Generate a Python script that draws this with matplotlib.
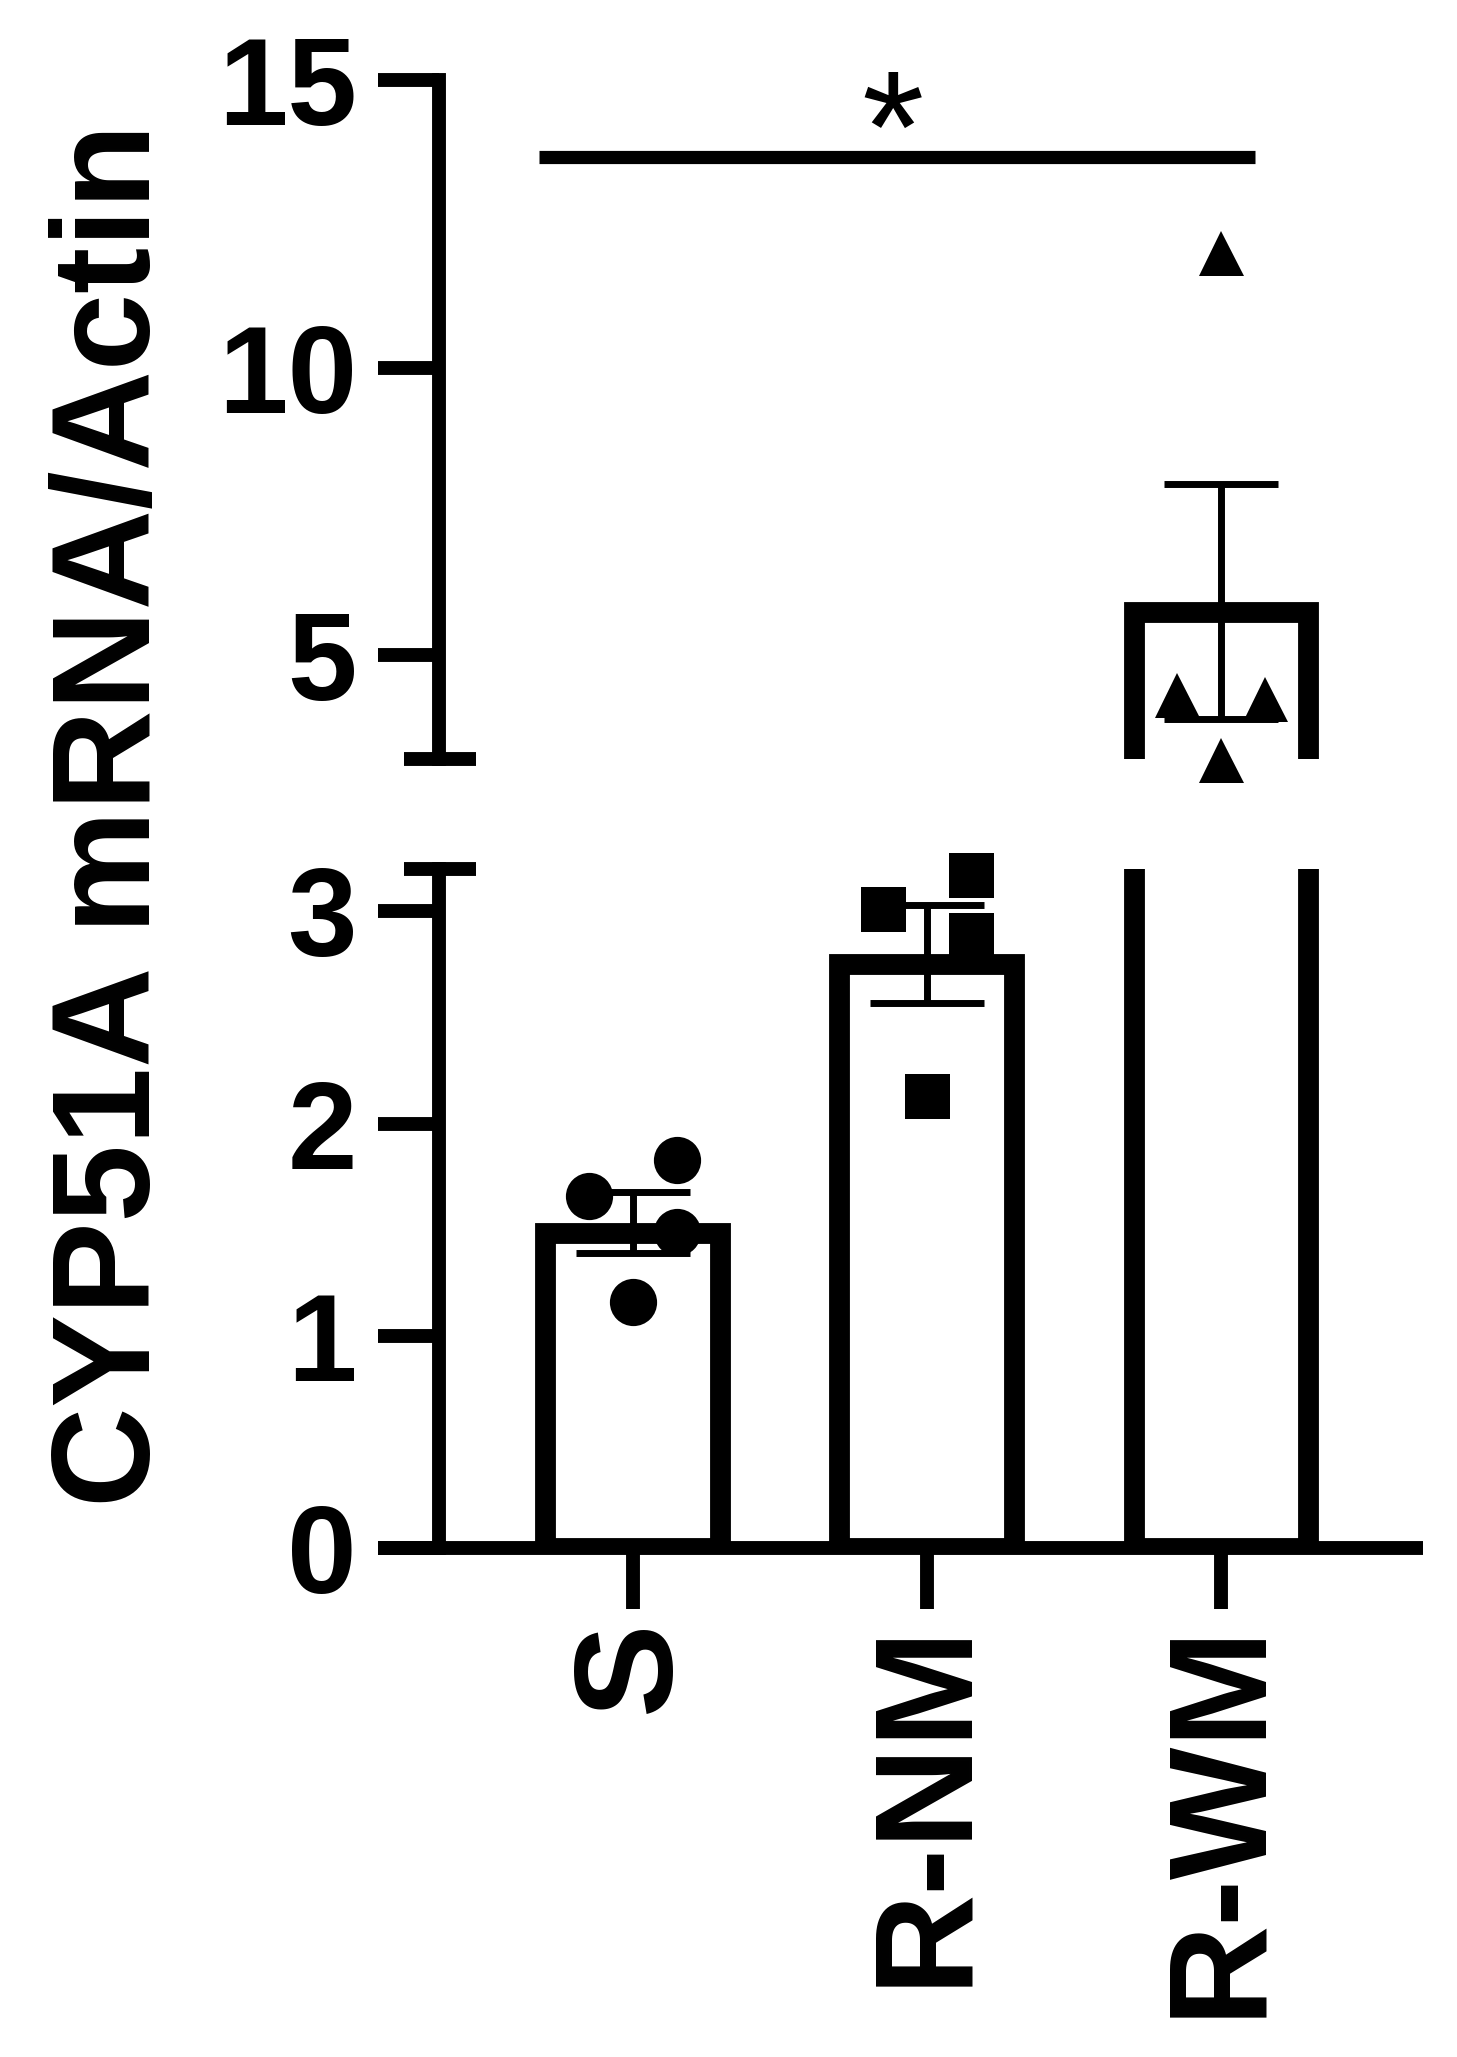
import numpy as np
import matplotlib
matplotlib.use('Agg')
import matplotlib.pyplot as plt

# fonts: Arial-like bold, like GraphPad
plt.rcParams['font.family'] = ['Liberation Sans', 'DejaVu Sans']
plt.rcParams['font.weight'] = 'bold'

# ---- data ----
groups = ['S', 'R-NM', 'R-WM']
s_vals = [1.66, 1.83, 1.49, 1.16]
rnm_vals = [3.01, 3.17, 2.89, 2.13]
rwm_vals = [12.0, 4.32, 4.24, 3.19]
# horizontal spread of the dots inside each bar
s_offsets = [-0.15, 0.15, 0.15, 0.0]
rnm_offsets = [-0.15, 0.15, 0.15, 0.0]
rwm_offsets = [0.0, -0.15, 0.15, 0.0]
markers = ['o', 's', '^']
marker_sizes = [34, 32.4, 32.4]

lower_ticks = [0, 1, 2, 3]
upper_ticks = [5, 10, 15]
lower_lim = (0, 3.2)
upper_lim = (3.2, 15)

sig_x = [-0.32, 2.116]   # S vs R-WM
sig_y = 13.66
star_x = 0.884
star_y = 13.23

all_vals = [s_vals, rnm_vals, rwm_vals]
all_offsets = [s_offsets, rnm_offsets, rwm_offsets]
means = np.array([np.mean(v) for v in all_vals])
sems = np.array([np.std(v, ddof=1) / np.sqrt(len(v)) for v in all_vals])
xpos = np.arange(len(groups))

# ---- figure / axes laid out in pixels ----
W, H = 1457, 2057
fig = plt.figure(figsize=(W / 100, H / 100), dpi=100)

def px_axes(x0, y0, x1, y1):
    return fig.add_axes([x0 / W, 1 - y1 / H, (x1 - x0) / W, (y1 - y0) / H])

ax_lo = px_axes(378, 869, 1423, 1548)
ax_hi = px_axes(378, 80, 1423, 759)

xlim = (-0.867, 2.687)
spine_pos = 0.0584
bar_w = 0.595
bar_lw = 15

for ax, lim in [(ax_lo, lower_lim), (ax_hi, upper_lim)]:
    ax.set_xlim(*xlim)
    ax.set_ylim(*lim)
    ax.patch.set_alpha(0)
    ax.spines['top'].set_visible(False)
    ax.spines['right'].set_visible(False)
    ax.spines['left'].set_position(('axes', spine_pos))
    ax.spines['left'].set_linewidth(10)
    ax.spines['left'].set_capstyle('projecting')
    ax.tick_params(axis='y', length=44, width=10, pad=15, labelsize=90)
    # GraphPad draws the bar outline inside the bar, so pull the top down by half a line
    inset = (bar_lw / 2 / 72 * 100) * (lim[1] - lim[0]) / 679
    ax.bar(xpos, means - inset, width=bar_w, bottom=0, fill=False,
           edgecolor='black', linewidth=bar_lw, joinstyle='miter', zorder=2)

ax_lo.spines['bottom'].set_linewidth(10)
ax_lo.spines['bottom'].set_capstyle('butt')
ax_hi.spines['bottom'].set_visible(False)

ax_lo.set_yticks(lower_ticks, [str(t) for t in lower_ticks])
ax_hi.set_yticks(upper_ticks, [str(t) for t in upper_ticks])

ax_lo.set_xticks(xpos, groups, rotation=90)
ax_lo.tick_params(axis='x', length=44, width=10, pad=8, labelsize=101)
ax_hi.tick_params(axis='x', bottom=False, labelbottom=False)

# axis break caps
ax_hi.plot([0.0249, 0.0938], [0, 0], transform=ax_hi.transAxes, color='k',
           lw=10, clip_on=False, solid_capstyle='butt')
ax_lo.plot([0.0249, 0.0938], [1, 1], transform=ax_lo.transAxes, color='k',
           lw=10, clip_on=False, solid_capstyle='butt')

# error bars and dots, on whichever segment holds the mean
for i in range(len(groups)):
    ax = ax_hi if means[i] > lower_lim[1] else ax_lo
    ax.errorbar(xpos[i], means[i], yerr=sems[i], fmt='none', ecolor='k',
                elinewidth=5, capsize=41, capthick=5, zorder=3)
    ax.plot(xpos[i] + np.array(all_offsets[i]), all_vals[i], linestyle='none',
            marker=markers[i], ms=marker_sizes[i], mfc='k', mec='k', mew=0,
            clip_on=False, zorder=4)

# significance bar
ax_hi.plot(sig_x, [sig_y, sig_y], color='k', lw=9.5, solid_capstyle='butt',
           clip_on=False)
ax_hi.text(star_x, star_y, '*', ha='center', va='baseline', fontsize=115,
           fontweight='normal')

fig.text(150 / W, 1 - 815 / H, 'CYP51A mRNA/Actin', rotation=90,
         rotation_mode='anchor', ha='center', va='baseline', fontsize=100,
         fontweight='bold')

fig.savefig('out.png', dpi=100)
